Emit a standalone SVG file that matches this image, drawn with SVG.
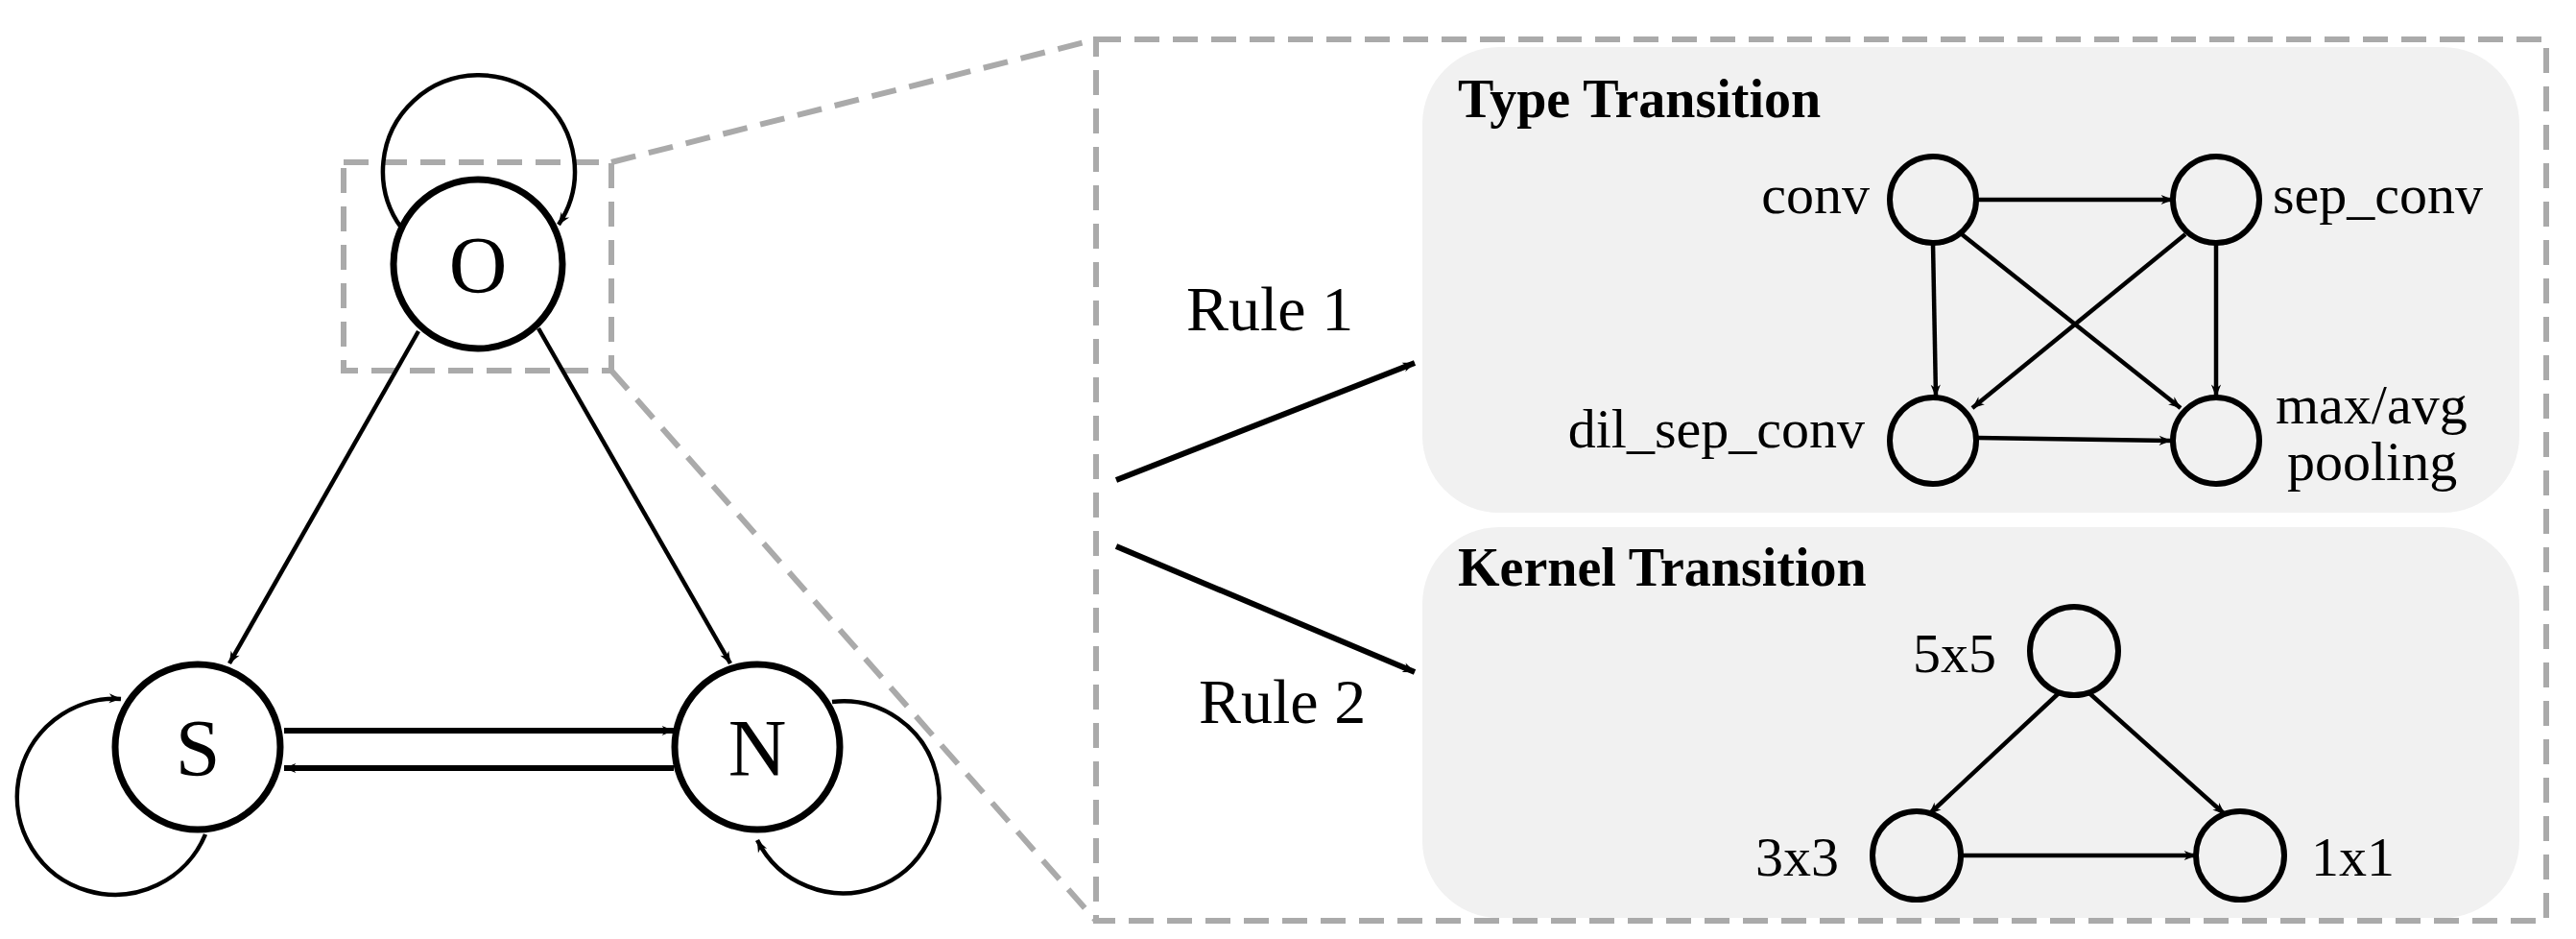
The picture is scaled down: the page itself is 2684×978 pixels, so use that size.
<svg xmlns="http://www.w3.org/2000/svg" width="2684" height="978" viewBox="0 0 2684 978">
<style>
.n{fill:#fff;stroke:#000;stroke-width:7}
.m{fill:none;stroke:#000;stroke-width:6}
.e{fill:none;stroke:#000;stroke-width:4.5;marker-end:url(#a)}
.d{fill:none;stroke:#aaa;stroke-width:6;stroke-dasharray:26 14}
.big{font-family:"Liberation Serif",serif;font-size:84px}
.lb{font-family:"Liberation Serif",serif;font-size:58px}
.rl{font-family:"Liberation Serif",serif;font-size:66px}
.tt{font-family:"Liberation Serif",serif;font-size:56px;font-weight:bold}
.box{fill:#f1f1f1}
</style>
<defs>
<marker id="a" viewBox="0 0 20 16" refX="19" refY="8" markerWidth="8" markerHeight="6.4" markerUnits="userSpaceOnUse" orient="auto" style="overflow:visible">
<path d="M0,0 L20,8 L0,16 L6,8 Z" fill="#000" transform="scale(1.6) translate(-7.5,-3)"/>
</marker>
</defs>
<rect class="box" x="1482" y="49" width="1143" height="485" rx="80"/>
<rect class="box" x="1482" y="549" width="1143" height="407" rx="80"/>
<g id="dashes">
<rect class="d" x="358" y="169" width="279" height="217"/>
<rect class="d" x="1142" y="41" width="1511" height="918"/>
<line class="d" x1="637" y1="169" x2="1142" y2="41"/>
<line class="d" x1="637" y1="386" x2="1142" y2="959"/>
</g>
<g id="connectors">
<path class="e" d="M418,237 A100,100 0 1 1 582,234"/>
<path class="e" d="M214,869 A102,102 0 1 1 126,728"/>
<path class="e" d="M867,731 A100,100 0 1 1 789,875"/>
<line class="e" x1="436" y1="345" x2="239" y2="691"/>
<line class="e" x1="561" y1="342" x2="761" y2="691"/>
<line class="e" x1="296" y1="761" x2="702" y2="761" style="stroke-width:6"/>
<line class="e" x1="702" y1="800" x2="296" y2="800" style="stroke-width:6"/>
<line class="e" x1="1163" y1="500" x2="1474" y2="378" style="stroke-width:6"/>
<line class="e" x1="1163" y1="569" x2="1474" y2="700" style="stroke-width:6"/>
<line class="e" x1="2059" y1="208" x2="2264" y2="208"/>
<line class="e" x1="2014" y1="253" x2="2017" y2="413"/>
<line class="e" x1="2044" y1="244" x2="2272" y2="425"/>
<line class="e" x1="2277" y1="244" x2="2055" y2="425"/>
<line class="e" x1="2309" y1="253" x2="2309" y2="413"/>
<line class="e" x1="2060" y1="456" x2="2262" y2="459"/>
<line class="e" x1="2145" y1="722" x2="2010" y2="848"/>
<line class="e" x1="2177" y1="722" x2="2318" y2="848"/>
<line class="e" x1="2043" y1="891" x2="2288" y2="891"/>
</g>
<g id="O"><circle class="n" cx="498" cy="275" r="88"/><text class="big" x="498" y="305" text-anchor="middle">O</text></g>
<g id="S"><circle class="n" cx="206" cy="778" r="86"/><text class="big" x="206" y="808" text-anchor="middle">S</text></g>
<g id="N"><circle class="n" cx="789" cy="778" r="86"/><text class="big" x="789" y="808" text-anchor="middle">N</text></g>
<text class="rl" x="1236" y="344">Rule 1</text>
<text class="rl" x="1249" y="753">Rule 2</text>
<text class="tt" x="1519" y="122">Type Transition</text>
<text class="tt" x="1519" y="610">Kernel Transition</text>
<g id="conv"><circle class="m" cx="2014" cy="208" r="45"/><text class="lb" x="1948" y="222" text-anchor="end">conv</text></g>
<g id="sep_conv"><circle class="m" cx="2309" cy="208" r="45"/><text class="lb" x="2368" y="222">sep_conv</text></g>
<g id="dil_sep_conv"><circle class="m" cx="2014" cy="459" r="45"/><text class="lb" x="1943" y="466" text-anchor="end">dil_sep_conv</text></g>
<g id="pooling"><circle class="m" cx="2309" cy="459" r="45"/><text class="lb" x="2371" y="441">max/avg</text><text class="lb" x="2383" y="500">pooling</text></g>
<g id="k5"><circle class="m" cx="2161" cy="678" r="46"/><text class="lb" x="2080" y="700" text-anchor="end">5x5</text></g>
<g id="k3"><circle class="m" cx="1997" cy="891" r="46"/><text class="lb" x="1916" y="912" text-anchor="end">3x3</text></g>
<g id="k1"><circle class="m" cx="2334" cy="891" r="46"/><text class="lb" x="2408" y="912">1x1</text></g>
</svg>
